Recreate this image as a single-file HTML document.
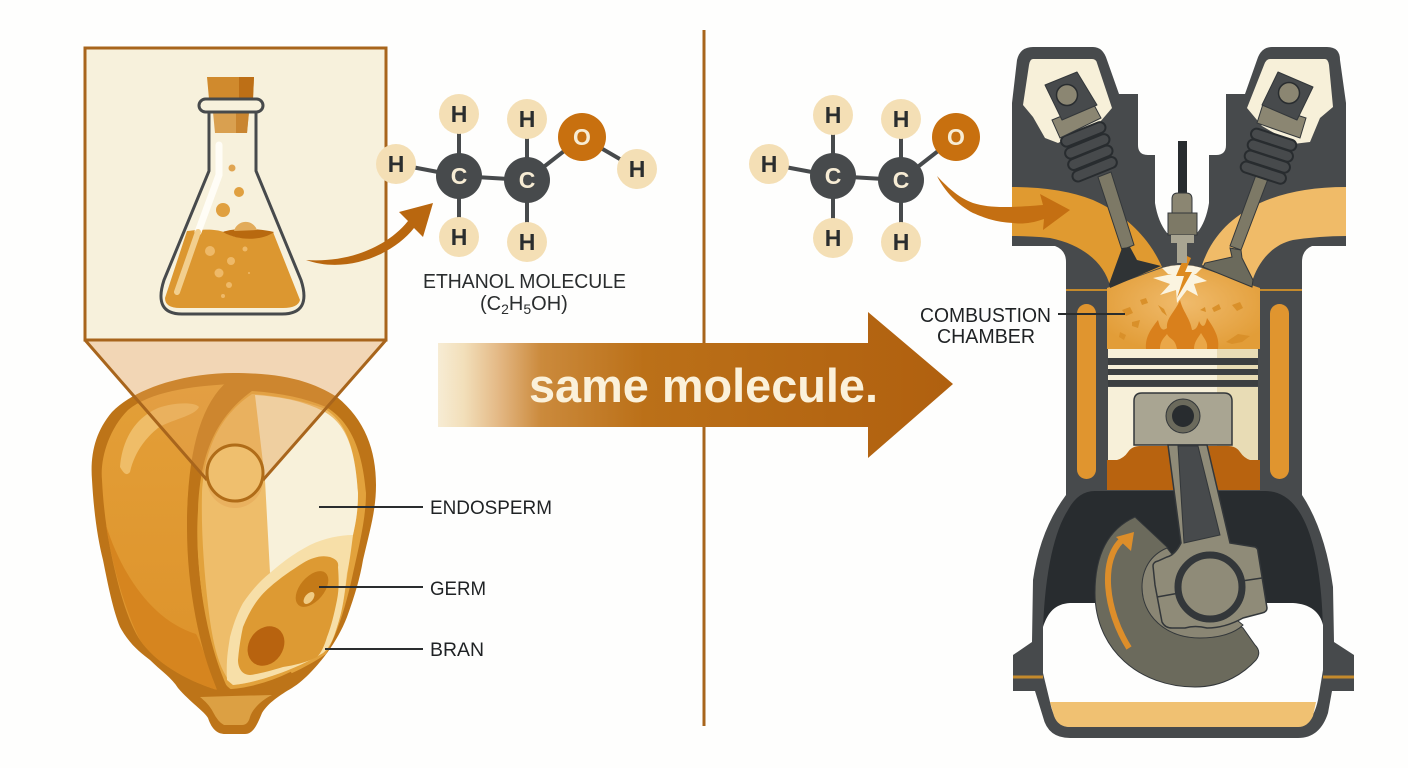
<!DOCTYPE html>
<html><head><meta charset="utf-8"><style>
html,body{margin:0;padding:0;background:#fefefd}
svg{display:block}
text{font-family:"Liberation Sans",sans-serif}
</style></head><body>
<svg xmlns="http://www.w3.org/2000/svg" width="1408" height="768" viewBox="0 0 1408 768">
<defs>
<linearGradient id="big" gradientUnits="userSpaceOnUse" x1="438" y1="0" x2="953" y2="0">
<stop offset="0" stop-color="#f7ecd4"/><stop offset=".05" stop-color="#f2dfba"/><stop offset=".12" stop-color="#e3b783"/><stop offset=".2" stop-color="#cb8a3c"/><stop offset=".4" stop-color="#bb7018"/><stop offset="1" stop-color="#b0600f"/>
</linearGradient>
<linearGradient id="lobe" x1="0" y1="0" x2="0" y2="1"><stop offset="0" stop-color="#e39f38"/><stop offset="1" stop-color="#dd922a"/></linearGradient>
<radialGradient id="cham" cx=".5" cy=".45" r=".6"><stop offset="0" stop-color="#f0bb6c"/><stop offset="1" stop-color="#e29d38"/></radialGradient>
<clipPath id="flaskclip"><path d="M208,112V171L164,280Q157,314 184,314H280Q309,314 301,280L254,171V112Z"/></clipPath>
</defs>

<!-- divider -->
<line x1="704" y1="30" x2="704" y2="726" stroke="#a8651c" stroke-width="3"/>

<!-- GRAIN -->
<path d="M233,373C185,373 135,388 112,412C95,432 90,455 92,480C94,515 98,540 103,560C108,585 113,610 120,627C130,645 140,652 150,660C160,670 172,678 178,688C190,702 205,712 208,718C212,730 218,734 225,734H245C252,734 256,728 262,713C268,703 280,695 292,688C305,680 318,665 327,653C335,642 342,630 347,617C355,595 360,578 363,560C370,530 376,510 376,485C376,450 365,420 337,397C310,380 280,373 233,373Z" fill="#bd7418"/>
<path d="M232,384C190,386 150,392 128,410C108,430 100,460 102,480C104,520 110,550 116,575C122,600 130,625 140,640C155,662 185,680 217,690C205,660 192,590 187,527C187,465 200,410 232,384Z" fill="url(#lobe)"/>
<path d="M106,525C112,565 125,610 140,640C155,662 185,680 217,690C210,670 200,640 196,634C150,620 120,570 106,525Z" fill="#d6851f"/>
<path d="M120,467C123,472 126,477 130,472C135,450 148,436 158,428C170,420 195,416 199,407C195,402 175,402 158,408C135,418 122,440 120,467Z" fill="#efbd68"/>
<!-- section face -->
<path d="M252,391C280,393 305,398 326,407C348,420 362,445 366,493C366,520 358,550 352,578C346,605 338,632 326,654C300,672 262,688 232,690C215,680 208,640 204,610C198,570 196,540 198,510C200,460 212,420 252,391Z" fill="#e2a23c"/>
<path d="M252,394C280,396 303,401 323,408C345,420 355,445 358,493C358,510 356,522 353,535C350,550 350,560 347,577C344,600 342,612 337,627C333,640 330,647 323,653C300,667 262,682 233,685C218,670 212,640 208,605C204,570 201,530 202,493C204,460 213,420 252,394Z" fill="#eebd6a"/>
<path d="M323,411C345,423 355,445 358,493C358,510 356,522 353,535C325,540 295,553 270,573L265,480L255,395C285,397 305,402 323,411Z" fill="#f8f1da"/>
<path d="M227,680C226,660 228,650 230,637C234,622 238,612 243,603C252,590 260,581 270,573C285,560 295,553 310,545C325,538 340,535 353,535C351,550 350,560 347,573C344,600 342,612 337,627C333,640 330,647 323,653C300,667 262,682 233,685Z" fill="#f7dfa8"/>
<path d="M238,660C239,648 241,636 243,627C250,610 258,597 270,587C280,578 292,570 303,563C313,557 322,555 330,557C336,559 339,562 338,567C339,580 339,590 337,600C334,615 331,627 327,637C324,647 321,653 317,657C305,663 295,665 283,667C270,671 258,674 250,675C242,675 238,668 238,660Z" fill="#dd9a33"/>
<ellipse cx="266" cy="646" rx="17" ry="21" transform="rotate(35 266 646)" fill="#b8630f"/>
<ellipse cx="312" cy="589" rx="12" ry="21" transform="rotate(40 312 589)" fill="#c47a18"/>
<ellipse cx="309" cy="598" rx="4" ry="7" transform="rotate(40 309 598)" fill="#f0cb84"/>
<!-- face rim -->
<path d="M232,384C200,410 192,470 192,527C192,590 205,650 222,688" fill="none" stroke="#bd7418" stroke-width="10"/>
<path d="M215,692C240,693 268,686 292,674" fill="none" stroke="#bd7418" stroke-width="5"/>
<path d="M200,697L232,696L272,695C262,700 253,708 250,717Q248,725 242,725H224Q218,722 213,712C210,706 205,701 200,697Z" fill="#dca043"/>

<!-- trapezoid -->
<path d="M85,340H386L263,480A28,28 0 0 1 207,480Z" fill="rgba(226,160,82,.42)"/>
<path d="M85,340L207,480M386,340L263,480" fill="none" stroke="#a8651c" stroke-width="3"/>
<circle cx="235" cy="473" r="28" fill="#efbf6e" stroke="#b06c18" stroke-width="3"/>

<!-- leaders -->
<path d="M319,507H423M319,587H423M325,649H423" stroke="#2a2d2e" stroke-width="2" fill="none"/>
<text x="430" y="514" font-size="19" textLength="122" lengthAdjust="spacingAndGlyphs" fill="#1f2224">ENDOSPERM</text>
<text x="430" y="595" font-size="19" textLength="56" lengthAdjust="spacingAndGlyphs" fill="#1f2224">GERM</text>
<text x="430" y="656" font-size="19" textLength="54" lengthAdjust="spacingAndGlyphs" fill="#1f2224">BRAN</text>

<!-- inset box -->
<rect x="85" y="48" width="301" height="292" fill="#f7f1dc" stroke="#a8651c" stroke-width="3"/>
<!-- flask -->
<path d="M207,77H254L253,99H209Z" fill="#d08a2d"/>
<path d="M239,77H254L253,99H239Z" fill="#bd6f16"/>
<path d="M213,112H249L247,133H215Z" fill="#d9a050"/>
<path d="M236,112H249L247,133H236Z" fill="#c98530"/>
<g clip-path="url(#flaskclip)">
<path d="M187,231C205,229 215,229 224,232C235,240 255,240 273,232L300,300Q298,308 283,308H180Q165,308 165,298Z" fill="#dc9730"/>
<path d="M223,232C232,228 258,228 274,232C262,241 238,241 223,232Z" fill="#b8690f"/>
</g>
<path d="M209,112V171L164,280Q153,314 182,314H282Q312,314 301,280L256,171V112" fill="none" stroke="#474a4c" stroke-width="3"/>
<rect x="199" y="99" width="64" height="13" rx="6.5" fill="#f7f1dc" stroke="#474a4c" stroke-width="3"/>
<path d="M219,145V175L198,232" fill="none" stroke="#fffdf6" stroke-width="7" stroke-linecap="round"/>
<path d="M198,232L177,292" fill="none" stroke="#f2cf8e" stroke-width="6" stroke-linecap="round"/>
<circle cx="232" cy="168" r="3.5" fill="#e0a552"/><circle cx="239" cy="192" r="5" fill="#e0a040"/><circle cx="223" cy="210" r="7" fill="#e0a040"/><path d="M234,231A12,12 0 0 1 257,230Z" fill="#e2ab5a"/>
<circle cx="210" cy="251" r="5" fill="#eeb968"/><circle cx="231" cy="261" r="4" fill="#eeb968"/><circle cx="219" cy="273" r="4.5" fill="#eeb968"/><circle cx="245" cy="249" r="2.5" fill="#eeb968"/><circle cx="229" cy="285" r="3" fill="#eeb968"/><circle cx="223" cy="296" r="2" fill="#eeb968"/><circle cx="249" cy="273" r="1" fill="#eeb968"/>

<!-- arrow 1 -->
<path d="M306,260C350,263 388,246 408,221L399,212L433,203L423,237L414,228C392,256 345,274 306,260Z" fill="#b9670f"/>

<!-- molecule 1 -->
<g stroke="#474a4c" stroke-width="4" fill="none">
<path d="M459,114V176M527,119V180M396,164L459,176L527,180L582,137L637,169M459,176V237M527,180V242"/>
</g>
<g fill="#f4dfb5"><circle cx="459" cy="114" r="20"/><circle cx="527" cy="119" r="20"/><circle cx="637" cy="169" r="20"/><circle cx="396" cy="164" r="20"/><circle cx="459" cy="237" r="20"/><circle cx="527" cy="242" r="20"/></g>
<circle cx="582" cy="137" r="24" fill="#c8700f"/>
<circle cx="459" cy="176" r="23" fill="#474a4c"/><circle cx="527" cy="180" r="23" fill="#474a4c"/>
<g font-size="23" font-weight="bold" text-anchor="middle" fill="#2a2d2e">
<text x="459" y="122">H</text><text x="527" y="127">H</text><text x="637" y="177">H</text><text x="396" y="172">H</text><text x="459" y="245">H</text><text x="527" y="250">H</text>
<text x="582" y="145" fill="#f7ecd4">O</text><text x="459" y="184" fill="#f7ecd4">C</text><text x="527" y="188" fill="#f7ecd4">C</text>
</g>
<text x="423" y="288" font-size="20" textLength="203" lengthAdjust="spacingAndGlyphs" fill="#2a2d2e">ETHANOL MOLECULE</text>
<text x="480" y="310" font-size="20" fill="#2a2d2e">(C<tspan font-size="14" dy="4">2</tspan><tspan dy="-4">H</tspan><tspan font-size="14" dy="4">5</tspan><tspan dy="-4">OH)</tspan></text>

<!-- big arrow -->
<path d="M438,343H868V312L953,384L868,458V427H438Z" fill="url(#big)"/>
<text x="529" y="402" font-size="47" font-weight="bold" textLength="349" lengthAdjust="spacingAndGlyphs" fill="#fbf1da">same molecule.</text>

<!-- molecule 2 -->
<g stroke="#474a4c" stroke-width="4" fill="none">
<path d="M833,115V176M901,119V180M769,164L833,176L901,180L956,137M833,176V238M901,180V242"/>
</g>
<g fill="#f4dfb5"><circle cx="833" cy="115" r="20"/><circle cx="901" cy="119" r="20"/><circle cx="769" cy="164" r="20"/><circle cx="833" cy="238" r="20"/><circle cx="901" cy="242" r="20"/></g>
<circle cx="956" cy="137" r="24" fill="#c8700f"/>
<circle cx="833" cy="176" r="23" fill="#474a4c"/><circle cx="901" cy="180" r="23" fill="#474a4c"/>
<g font-size="23" font-weight="bold" text-anchor="middle" fill="#2a2d2e">
<text x="833" y="123">H</text><text x="901" y="127">H</text><text x="769" y="172">H</text><text x="833" y="246">H</text><text x="901" y="250">H</text>
<text x="956" y="145" fill="#f7ecd4">O</text><text x="833" y="184" fill="#f7ecd4">C</text><text x="901" y="188" fill="#f7ecd4">C</text>
</g>

<!-- ENGINE body -->
<path d="M1017,60Q1020,47 1033,47H1093Q1103,47 1107,60L1119,94H1138V145Q1138,155 1148,155H1155V203Q1158,222 1167,233L1197,233Q1206,222 1209,203V155H1216Q1226,155 1226,145V94H1245L1257,60Q1261,47 1272,47H1327Q1340,47 1340,60L1346,103V246H1312Q1302,250 1302,262V495Q1325,530 1333,587L1334,642L1354,655V691H1332L1328,713Q1320,738 1298,738H1070Q1048,738 1043,717L1035,691H1013V655L1032,642L1033,580Q1040,530 1066,495V262Q1066,250 1055,246H1012V103Z" fill="#474a4c"/>

<!-- crankcase cavity -->
<path d="M1043,630C1045,570 1055,530 1068,510Q1078,491 1095,491H1265Q1285,491 1298,510C1312,530 1322,570 1323,630L1323,640L1100,640Z" fill="#282c2f"/>
<path d="M1043,627C1048,612 1055,604 1070,603H1293C1310,604 1320,612 1323,625V670L1318,700Q1312,727 1295,727H1070Q1055,727 1050,702L1043,673Z" fill="#fefefd"/>
<path d="M1050,702H1316L1313,716Q1308,727 1298,727H1070Q1058,727 1054,716Z" fill="#f0c172"/>
<path d="M1013,677H1043M1323,677H1354" stroke="#c48a2c" stroke-width="3"/>

<!-- cylinder area -->
<rect x="1077" y="304" width="19" height="175" rx="9.5" fill="#e0952f"/>
<rect x="1270" y="304" width="19" height="175" rx="9.5" fill="#e0952f"/>
<path d="M1066,290H1302" stroke="#c48a2c" stroke-width="2"/>
<rect x="1108" y="387" width="150" height="73" fill="#f7f0d9"/>
<rect x="1217" y="387" width="41" height="73" fill="#e8dcb5"/>
<path d="M1107,460H1117Q1124,458 1128,452Q1132,446 1140,446H1228Q1236,446 1240,452Q1244,458 1250,460H1260V490H1107Z" fill="#b8630f"/>
<!-- chamber -->
<path d="M1107,288L1162,268Q1182,262 1202,268L1260,288V349H1107Z" fill="url(#cham)"/>
<path d="M1146,349C1145,338 1150,330 1158,320C1160,328 1162,332 1167,328C1166,318 1175,312 1180,300C1183,312 1190,318 1192,330C1196,330 1198,326 1199,321C1202,328 1205,328 1207,318C1214,328 1220,338 1218,349Z" fill="#d9801c"/>
<path d="M1160,349C1160,341 1164,338 1167,334C1170,340 1175,338 1177,349ZM1194,349C1194,342 1198,338 1201,333C1205,340 1208,342 1207,349Z" fill="#eaa748"/>
<g fill="#d9902a"><path d="M1122,310l8,-3l3,6l-7,3z"/><path d="M1140,300l6,-2l2,5l-6,2z"/><path d="M1158,305l6,4l3,7l-5,-4z"/><path d="M1212,308l7,-4l2,5l-7,3z"/><path d="M1232,305l8,-3l3,6l-6,3z"/><path d="M1226,342l12,-8l12,2l-8,6l-10,2z"/><path d="M1132,322l8,-2l-2,8l-6,-2z"/><path d="M1120,332l6,3l-2,5l-5,-3z"/><path d="M1200,310l5,-3l1,5z"/></g>
<!-- starburst -->
<path d="M1162,268Q1182,262 1202,268L1196,274L1168,274Z" fill="#fbf4e0"/>
<path d="M1182,264L1190,272L1207,281L1194,284L1198,296L1187,290L1177,303L1176,290L1160,295L1170,284L1153,278L1172,274Z" fill="#fbf4e0"/>
<path d="M1185,255L1176,276L1184,276L1177,298L1192,272L1185,272L1191,258Z" fill="#dd8a1f"/>
<!-- piston rings -->
<rect x="1108" y="349" width="150" height="9" fill="#f7f0d9"/><rect x="1217" y="349" width="41" height="9" fill="#e8dcb5"/>
<rect x="1108" y="358" width="150" height="7" fill="#3c3f41"/>
<rect x="1108" y="365" width="150" height="4" fill="#f7f0d9"/><rect x="1217" y="365" width="41" height="4" fill="#e8dcb5"/>
<rect x="1108" y="369" width="150" height="6" fill="#3c3f41"/>
<rect x="1108" y="375" width="150" height="5" fill="#f7f0d9"/><rect x="1217" y="375" width="41" height="5" fill="#e8dcb5"/>
<rect x="1108" y="380" width="150" height="6" fill="#3c3f41"/>
<!-- pin block -->
<path d="M1134,445V401Q1134,393 1142,393H1224Q1232,393 1232,401V445Z" fill="#a9a592" stroke="#33373a" stroke-width="1.5"/>
<circle cx="1183" cy="416" r="17" fill="#6b6a5c" stroke="#33373a" stroke-width="1"/>
<circle cx="1183" cy="416" r="11" fill="#282c2f"/>

<!-- crank -->
<path d="M1135,517Q1095,535 1095,593C1095,650 1140,687 1195,687C1225,687 1245,672 1256,660Q1262,652 1255,645L1243,628L1200,600L1167,547Z" fill="#6b6a5c" stroke="#33373a" stroke-width="1"/>
<path d="M1167,548C1150,555 1142,570 1142,587C1142,615 1165,638 1200,638C1220,638 1235,633 1243,625L1200,590Z" fill="#8a8674" stroke="#33373a" stroke-width="1"/>
<path d="M1168,445H1207L1230,543L1255,547Q1258,548 1258,552L1267,608Q1267,612 1262,613L1243,618Q1225,628 1207,628Q1195,625 1185,628H1172Q1165,628 1162,622L1155,585L1153,566Q1153,562 1158,561L1167,557Q1175,555 1181,543Z" fill="#8f8b78" stroke="#33373a" stroke-width="1.5"/>
<path d="M1178,446H1198L1220,535L1184,543Z" fill="#474a4c" stroke="#33373a"/>
<path d="M1157,597L1185,592M1235,582L1262,578" stroke="#33373a" stroke-width="1.5"/>
<circle cx="1210" cy="587" r="32" fill="#8f8b78" stroke="#33373a" stroke-width="7"/>
<path d="M1129,648C1105,610 1100,560 1122,540" fill="none" stroke="#dd8e2a" stroke-width="6"/>
<path d="M1116,537L1134,532L1131,551Z" fill="#dd8e2a"/>

<!-- ports -->
<path d="M1012,187Q1060,187 1093,200C1120,212 1147,233 1162,267L1110,286C1105,265 1085,245 1050,238Q1030,236 1012,236Z" fill="#e09a30"/>
<path d="M1346,187Q1295,187 1260,203C1235,215 1213,233 1202,265L1252,282C1257,265 1270,245 1293,240Q1320,236 1346,236Z" fill="#f0bb68"/>

<!-- rocker housing -->
<path d="M1033,59H1092Q1096,59 1097,63L1112,108L1100,122L1058,143L1045,138L1033,117L1023,105L1029,65Q1030,59 1033,59Z" fill="#f7f0d9"/>
<path d="M1270,59H1325Q1328,59 1329,65L1333,107L1320,118L1310,142L1293,144L1262,126L1247,108L1264,65Q1266,59 1270,59Z" fill="#f7f0d9"/>
<!-- left valve -->
<path d="M1098,177L1111,172L1134,245L1122,250Z" fill="#7d7966" stroke="#33373a" stroke-width="1"/>
<path d="M1122,248L1130,247L1137,260L1161,266L1110,288L1109,284Z" fill="#2f3335"/>
<g fill="#474a4c" stroke="#282c2f" stroke-width="2">
<rect x="1060" y="129" width="47" height="11" rx="5.5" transform="rotate(-22 1083 135)"/>
<rect x="1064" y="141" width="47" height="11" rx="5.5" transform="rotate(-22 1087 147)"/>
<rect x="1067" y="152" width="47" height="11" rx="5.5" transform="rotate(-22 1091 158)"/>
<rect x="1071" y="164" width="47" height="11" rx="5.5" transform="rotate(-22 1094 169)"/>
</g>
<path d="M1052,120L1093,103L1101,118L1060,138Z" fill="#8b8672" stroke="#33373a"/>
<path d="M1045,85L1077,72L1097,105L1062,120Z" fill="#474a4c" stroke="#33373a" stroke-linejoin="round"/>
<circle cx="1067" cy="95" r="10.5" fill="#8b8672" stroke="#282c2f" stroke-width="1.5"/>
<!-- right valve -->
<path d="M1256,175L1268,179L1241,250L1230,246Z" fill="#7d7966" stroke="#33373a" stroke-width="1"/>
<path d="M1230,248L1241,250L1242,258L1253,280L1252,287L1203,267L1205,263L1232,257Z" fill="#6b6a5c" stroke="#33373a"/>
<g fill="#474a4c" stroke="#282c2f" stroke-width="2">
<rect x="1250" y="134" width="47" height="11" rx="5.5" transform="rotate(18 1273 140)"/>
<rect x="1247" y="145" width="47" height="11" rx="5.5" transform="rotate(18 1270 150)"/>
<rect x="1244" y="156" width="47" height="11" rx="5.5" transform="rotate(18 1267 161)"/>
<rect x="1240" y="167" width="47" height="11" rx="5.5" transform="rotate(18 1263 172)"/>
</g>
<path d="M1263,104L1306,118L1300,138L1257,123Z" fill="#8b8672" stroke="#33373a"/>
<path d="M1278,72L1313,87L1297,120L1262,105Z" fill="#474a4c" stroke="#33373a" stroke-linejoin="round"/>
<circle cx="1289" cy="93" r="10.5" fill="#8b8672" stroke="#282c2f" stroke-width="1.5"/>
<!-- spark plug -->
<rect x="1178" y="141" width="9" height="52" fill="#282c2f"/>
<path d="M1172,213V199Q1172,193 1178,193H1186Q1192,193 1192,199V213Z" fill="#8b8672" stroke="#33373a"/>
<rect x="1168" y="213" width="29" height="22" fill="#7d7966" stroke="#33373a"/>
<rect x="1171" y="235" width="23" height="8" fill="#a9a592"/>
<rect x="1177" y="243" width="10" height="20" fill="#a9a592"/>

<!-- arrow 2 -->
<path d="M937,176C950,190 960,198 973,203C990,208 1005,208 1043,205L1040,194L1070,210L1043,230L1044,219C1030,224 1020,224 1013,223C995,222 985,218 973,213C958,205 945,192 937,176Z" fill="#c46f12"/>

<!-- combustion label -->
<path d="M1058,314H1125" stroke="#2a2d2e" stroke-width="2"/>
<text x="920" y="322" font-size="20" textLength="131" lengthAdjust="spacingAndGlyphs" fill="#1f2224">COMBUSTION</text>
<text x="937" y="343" font-size="20" textLength="98" lengthAdjust="spacingAndGlyphs" fill="#1f2224">CHAMBER</text>
</svg>
</body></html>
